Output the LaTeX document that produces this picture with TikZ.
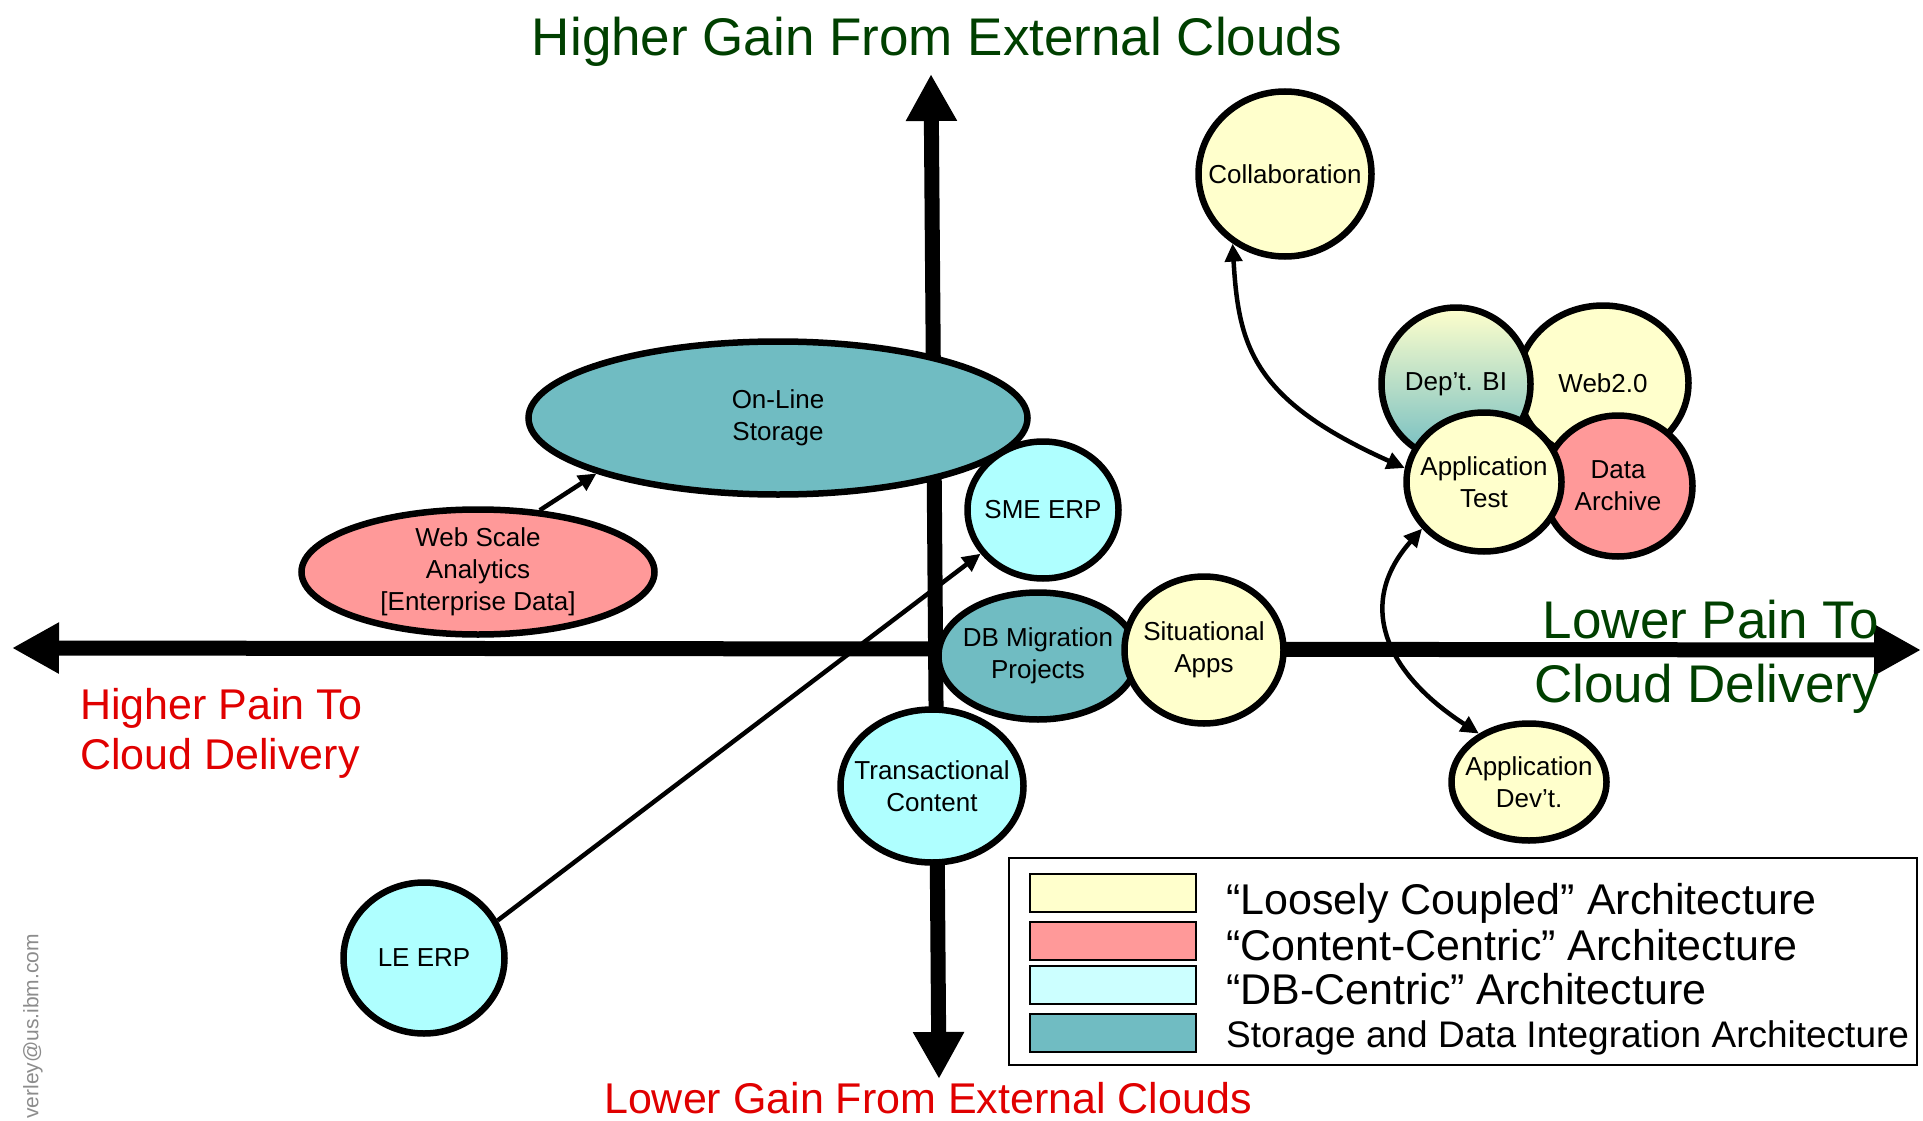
\documentclass[tikz,border=0pt]{standalone}
\usepackage{fontspec}
\setmainfont{Liberation Sans}
\usepackage{xcolor}
\usetikzlibrary{shapes.geometric,arrows.meta}

\definecolor{looseyel}{HTML}{FFFFCC}
\definecolor{contentred}{HTML}{FF9999}
\definecolor{dbcyan}{HTML}{AFFFFF}
\definecolor{legcyan}{HTML}{CCFFFF}
\definecolor{storteal}{HTML}{70BCC2}
\definecolor{gaingreen}{HTML}{004000}
\definecolor{painred}{HTML}{E00000}

\begin{document}
\begin{tikzpicture}[x=1pt, y=-1pt,
	bigaxis/.style={line width=15pt, {Triangle[length=47pt,width=48pt]}-{Triangle[length=47pt,width=48pt]}},
	blob/.style={ellipse, draw, line width=6.5pt, inner sep=0pt},
	blobtext/.style={align=center, font=\fontsize{26}{32}\selectfont},
	link/.style={line width=4.5pt, -{Triangle[length=18pt,width=17pt]}},
	twoway/.style={line width=4.5pt, {Triangle[length=18pt,width=17pt]}-{Triangle[length=18pt,width=17pt]}},
	swatch/.style={draw, line width=2.5pt, minimum width=166pt, minimum height=38pt}]

\useasboundingbox (0,0) rectangle (1923,1121);

\coordinate (gaintop) at (931,74);
\coordinate (gainbot) at (939,1079);
\coordinate (painleft) at (12,648);
\coordinate (painright) at (1921,650);

\draw[bigaxis] (gainbot)--(gaintop);
\draw[bigaxis] (painleft)--(painright);

\node[anchor=base, font=\fontsize{53}{64}\selectfont, text=gaingreen] (gainhigh) at (937,56) {Higher Gain From External Clouds};
\node[anchor=base, font=\fontsize{43}{52}\selectfont, text=painred] (gainlow) at (928,1113) {Lower Gain From External Clouds};
\node[anchor=north west, align=left, inner sep=0pt, font=\fontsize{43}{50}\selectfont, text=painred] (painhigh) at (80,688) {Higher Pain To\\Cloud Delivery};
\node[anchor=north east, align=right, inner sep=0pt, font=\fontsize{53}{64}\selectfont, text=gaingreen] (painlow) at (1879,600) {Lower Pain To\\Cloud Delivery};

\node[rotate=90, anchor=west, inner sep=0pt, text=black!45, font=\fontsize{21}{25}\selectfont] (mail) at (33,1119) {verley@us.ibm.com};

\node[blob, fill=storteal, minimum width=499pt, minimum height=153pt, label={[blobtext]center:On-Line\\Storage}] (storage) at (778,418) {};
\node[blob, fill=contentred, minimum width=353pt, minimum height=125pt, label={[blobtext]center:Web Scale\\Analytics\\{[Enterprise Data]}}] (webscale) at (478,572) {};
\node[blob, fill=dbcyan, minimum width=151pt, minimum height=137pt, label={[blobtext]center:SME ERP}] (smeerp) at (1043,510) {};
\node[blob, fill=storteal, minimum width=199pt, minimum height=127pt, label={[blobtext]center:DB Migration\\Projects}] (dbmig) at (1038,656) {};
\node[blob, fill=dbcyan, minimum width=183pt, minimum height=153pt, label={[blobtext]center:Transactional\\Content}] (transact) at (932,786) {};
\node[blob, fill=looseyel, minimum width=159pt, minimum height=147pt, label={[blobtext]center:Situational\\Apps}] (situational) at (1204,650) {};
\node[blob, fill=dbcyan, minimum width=161pt, minimum height=151pt, label={[blobtext]center:LE ERP}] (leerp) at (424,958) {};
\node[blob, fill=looseyel, minimum width=155pt, minimum height=117pt, label={[blobtext]center:Application\\Dev’t.}] (appdev) at (1529,782) {};
\node[blob, fill=looseyel, minimum width=173pt, minimum height=165pt, label={[blobtext]center:Collaboration}] (collab) at (1285,174) {};

\node[blob, fill=looseyel, minimum width=171pt, minimum height=155pt, label={[blobtext]center:Web2.0}] (web2) at (1603,383) {};
\node[blob, fill=contentred, minimum width=149pt, minimum height=141pt, label={[blobtext]center:Data\\Archive}] (archive) at (1618,486) {};
\node[blob, top color=looseyel, bottom color=storteal, minimum width=149pt, minimum height=153pt, label={[blobtext]center:Dep’t. BI}] (deptbi) at (1456,384) {};
\node[blob, fill=looseyel, minimum width=155pt, minimum height=139pt, label={[blobtext]center:Application\\Test}] (apptest) at (1484,482) {};

\draw[link] (webscale.45)--(storage.197);
\draw[link] (leerp.27)--(smeerp.215);
\draw[twoway] (collab.233) .. controls +(6,103) and +(-152,-68) .. (apptest.170);
\draw[twoway] (apptest.217) .. controls +(-65,73) and +(-97,-63) .. (appdev.136);

\begin{scope}

\draw[line width=2.5pt] (1009,858) rectangle (1917,1065);

\foreach \col/\y/\b/\fs/\txt [count=\i] in {looseyel/893/914/43/{“Loosely Coupled” Architecture},
	contentred/941/960/43/{“Content-Centric” Architecture},
	legcyan/985/1004/43/{“DB-Centric” Architecture},
	storteal/1033/1047/37/{Storage and Data Integration Architecture}}{
	\node[swatch, fill=\col] (swatch\i) at (1113,\y) {};
	\node[anchor=base west, inner sep=0pt, font=\fontsize{\fs}{\fs}\selectfont] (legend\i) at (1226,\b) {\txt};
}

\end{scope}

\end{tikzpicture}
\end{document}
